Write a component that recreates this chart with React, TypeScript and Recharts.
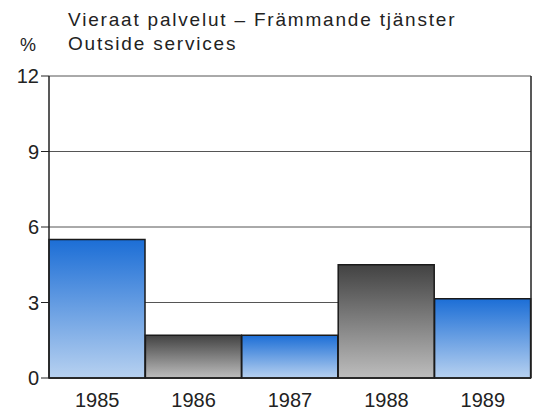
import React from 'react'
import { BarChart, Bar, XAxis, YAxis, CartesianGrid, Cell } from 'recharts'

const years = ['1985', '1986', '1987', '1988', '1989']
const shares = [5.5, 1.7, 1.7, 4.5, 3.15]
const yTicks = [0, 3, 6, 9, 12]

const data = years.map((year, i) => ({ year, value: shares[i] }))

const font = '"Liberation Sans", Arial, sans-serif'

export default function App() {
  return (
    <div style={{ position: 'absolute', left: 0, top: 0, width: 535, height: 415, background: '#fff', fontFamily: font, color: '#222' }}>
      <div style={{ position: 'absolute', left: 68, top: 8, fontSize: 19, lineHeight: '24px', letterSpacing: 1.8, whiteSpace: 'nowrap' }}>
        Vieraat palvelut – Främmande tjänster<br />Outside services
      </div>
      <div style={{ position: 'absolute', left: 20, top: 35, fontSize: 18 }}>%</div>
      <BarChart width={535} height={415} data={data} barCategoryGap={0} margin={{ top: 76, right: 0, bottom: 7, left: 0 }}>
        <defs>
          <linearGradient id="blueFill" x1="0" y1="0" x2="0" y2="1">
            <stop offset="0%" stopColor="#1c6ed6" />
            <stop offset="100%" stopColor="#b7d1f0" />
          </linearGradient>
          <linearGradient id="grayFill" x1="0" y1="0" x2="0" y2="1">
            <stop offset="0%" stopColor="#424242" />
            <stop offset="100%" stopColor="#bdbdbd" />
          </linearGradient>
        </defs>
        <CartesianGrid vertical={false} stroke="#555" strokeWidth={1} />
        <XAxis dataKey="year" height={30} tickLine={false} axisLine={{ stroke: '#222', strokeWidth: 1.5 }} tick={{ fontSize: 20, fill: '#222', fontFamily: font }} tickMargin={9} interval={0} />
        <XAxis xAxisId="top" orientation="top" dataKey="year" tick={false} tickLine={false} axisLine={{ stroke: '#222', strokeWidth: 1.5 }} height={0} />
        <YAxis domain={[0, 12]} ticks={yTicks} width={49} tickSize={8} tickMargin={2} axisLine={{ stroke: '#222', strokeWidth: 1.5 }} tickLine={{ stroke: '#222' }} tick={{ fontSize: 20, fill: '#222', fontFamily: font }} />
        <YAxis yAxisId="right" orientation="right" domain={[0, 12]} width={4} tick={false} tickLine={false} axisLine={{ stroke: '#222', strokeWidth: 1.5 }} />
        <Bar dataKey="value" stroke="#1a1a1a" strokeWidth={1.5} isAnimationActive={false}>
          {data.map((d, i) => (
            <Cell key={d.year} fill={i % 2 === 0 ? 'url(#blueFill)' : 'url(#grayFill)'} />
          ))}
        </Bar>
      </BarChart>
    </div>
  )
}
